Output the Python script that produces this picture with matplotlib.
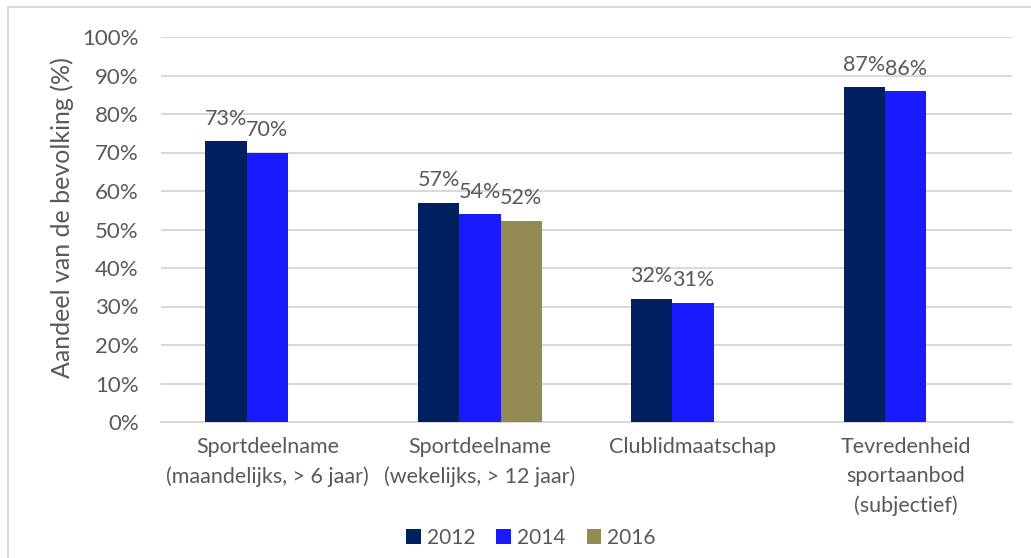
import numpy as np
import matplotlib.pyplot as plt
from matplotlib.patches import Rectangle

categories = ["Sportdeelname\n(maandelijks, > 6 jaar)",
              "Sportdeelname\n(wekelijks, > 12 jaar)",
              "Clublidmaatschap",
              "Tevredenheid\nsportaanbod\n(subjectief)"]
years = ["2012", "2014", "2016"]
values_2012 = [73, 57, 32, 87]
values_2014 = [70, 54, 31, 86]
values_2016 = [None, 52.3, None, None]
labels_2016 = [None, "52%", None, None]

colors = ["#00205F", "#1A1AFF", "#948A54"]
text_col = "#595959"

plt.rcParams['font.family'] = ['Lato', 'DejaVu Sans']

fig = plt.figure(figsize=(10.31, 5.58), dpi=100)
ax = fig.add_axes([161 / 1031, 1 - 422 / 558, 851 / 1031, 385 / 558])

# light frame around the chart (cut off at right/bottom like the original)
fig.patches.append(Rectangle((8 / 1031, -0.05), 1.2, 1 - 7 / 558 + 0.05,
                             transform=fig.transFigure, fill=False,
                             edgecolor="#D9D9D9", linewidth=1.5))

x = np.arange(len(categories))
w = 0.194
series = [values_2012, values_2014, values_2016]
for k, (yr, vals, col) in enumerate(zip(years, series, colors)):
    off = (k - 1) * w
    idx = [i for i, v in enumerate(vals) if v is not None]
    xs = [x[i] + off for i in idx]
    vs = [vals[i] for i in idx]
    ax.bar(xs, vs, width=w, color=col, label=yr, zorder=3)
    for xi, v, i in zip(xs, vs, idx):
        txt = labels_2016[i] if k == 2 else "{:.0f}%".format(v)
        ax.text(xi, v + 3.2, txt, ha="center", va="bottom",
                fontsize=15.5, color=text_col)

ax.set_ylim(0, 100)
ax.set_xlim(-0.5, 3.5)
ax.set_yticks(np.arange(0, 101, 10))
ax.set_yticklabels(["{}%".format(t) for t in range(0, 101, 10)])
ax.set_xticks(x)
ax.set_xticklabels(categories, linespacing=1.55)
ax.tick_params(axis="y", length=0, pad=16, labelsize=16, labelcolor=text_col)
ax.tick_params(axis="x", length=0, pad=11, labelsize=15.5, labelcolor=text_col)
ax.grid(axis="y", color="#D9D9D9", linewidth=1.5, zorder=0)
for s in ["top", "right", "left"]:
    ax.spines[s].set_visible(False)
ax.spines["bottom"].set_color("#D9D9D9")
ax.spines["bottom"].set_linewidth(1.5)
ax.set_ylabel("Aandeel van de bevolking (%)", fontsize=18, color=text_col)
ax.yaxis.set_label_coords(-0.102, 0.532)

fig.legend(loc="center", bbox_to_anchor=(531 / 1031, 1 - 538 / 558), ncol=3,
           frameon=False, fontsize=15, labelcolor=text_col,
           handlelength=0.7, handleheight=0.7, handletextpad=0.3,
           columnspacing=1.0, borderpad=0)

fig.savefig("out.png", dpi=100)
